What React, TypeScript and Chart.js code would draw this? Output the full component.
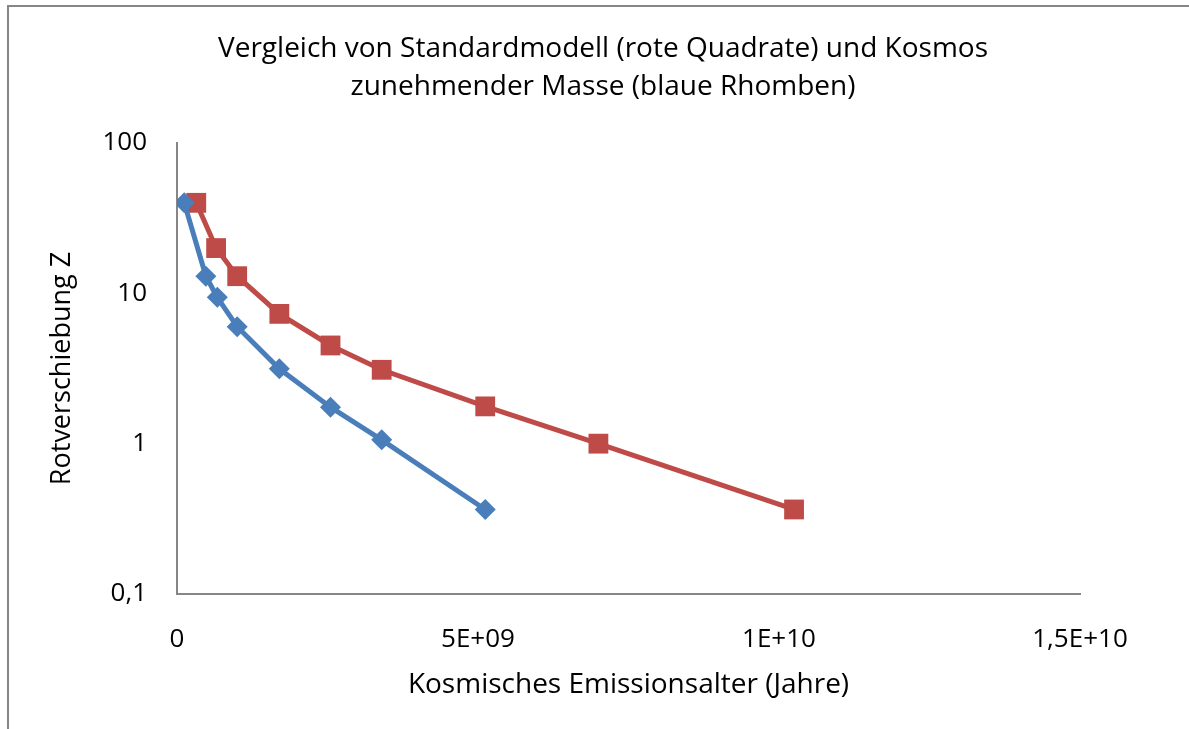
import React, { useEffect, useRef } from "react";
import { Chart, registerables } from "chart.js";

Chart.register(...registerables);

const chartTitle = [
  "Vergleich von Standardmodell (rote Quadrate) und Kosmos",
  "zunehmender Masse (blaue Rhomben)",
];
const xAxisTitle = "Kosmisches Emissionsalter (Jahre)";
const yAxisTitle = "Rotverschiebung Z";

// Kosmos zunehmender Masse (blaue Rhomben)
const blueAge = [0.12e9, 0.48e9, 0.67e9, 1.0e9, 1.7e9, 2.55e9, 3.4e9, 5.12e9];
const blueZ = [40, 13, 9.4, 6, 3.15, 1.75, 1.06, 0.365];

// Standardmodell (rote Quadrate)
const redAge = [0.32e9, 0.65e9, 1.0e9, 1.7e9, 2.55e9, 3.4e9, 5.12e9, 7.0e9, 10.25e9];
const redZ = [40, 20, 13, 7.3, 4.5, 3.1, 1.77, 1.0, 0.365];

const xTickLabels: Record<string, string> = {
  "0": "0",
  "5000000000": "5E+09",
  "10000000000": "1E+10",
  "15000000000": "1,5E+10",
};
const yTickLabels: Record<string, string> = {
  "0.1": "0,1",
  "1": "1",
  "10": "10",
  "100": "100",
};

const FONT = "'Open Sans', sans-serif";

const borderPlugin = {
  id: "outerBorder",
  beforeDraw(chart: any) {
    const ctx = chart.ctx;
    ctx.save();
    ctx.strokeStyle = "#868686";
    ctx.lineWidth = 2;
    ctx.beginPath();
    ctx.moveTo(8, chart.height);
    ctx.lineTo(8, 6);
    ctx.lineTo(chart.width, 6);
    ctx.stroke();
    ctx.restore();
  },
};

export default function App() {
  const ref = useRef<HTMLCanvasElement | null>(null);

  useEffect(() => {
    document.body.style.margin = "0";
    const canvas = ref.current;
    if (!canvas) return;
    const blue = "#4A7EBB";
    const red = "#BE4B48";
    const chart = new Chart(canvas, {
      type: "scatter",
      data: {
        datasets: [
          {
            label: "Kosmos zunehmender Masse",
            data: blueAge.map((x, i) => ({ x, y: blueZ[i] })),
            showLine: true,
            borderColor: blue,
            backgroundColor: blue,
            borderWidth: 5,
            pointStyle: "rectRot",
            pointRadius: 10.5,
            pointBorderWidth: 0,
          },
          {
            label: "Standardmodell",
            data: redAge.map((x, i) => ({ x, y: redZ[i] })),
            showLine: true,
            borderColor: red,
            backgroundColor: red,
            borderWidth: 5,
            pointStyle: "rect",
            pointRadius: 14,
            pointBorderWidth: 0,
          },
        ],
      },
      options: {
        responsive: false,
        animation: false,
        layout: { padding: { left: 17, right: 0, top: 0, bottom: 0 } },
        plugins: {
          legend: { display: false },
          tooltip: { enabled: false },
          title: {
            display: true,
            text: chartTitle,
            color: "#000",
            font: { family: FONT, size: 28, weight: "normal", lineHeight: 1.357 },
            padding: { top: 30, bottom: 37 },
          },
        },
        scales: {
          x: {
            type: "linear",
            min: 0,
            max: 1.5e10,
            border: { display: true, color: "#868686", width: 2 },
            grid: { display: false, drawTicks: false },
            ticks: {
              stepSize: 5e9,
              padding: 30,
              color: "#000",
              font: { family: FONT, size: 26 },
              callback: (v: any) => xTickLabels[String(v)] ?? "",
            },
            title: {
              display: true,
              text: xAxisTitle,
              color: "#000",
              font: { family: FONT, size: 28, lineHeight: 1.2 },
              padding: { top: 0, bottom: 27 },
            },
            afterFit: (s: any) => {
              s.height = 135;
            },
          },
          y: {
            type: "logarithmic",
            min: 0.1,
            max: 100,
            border: { display: true, color: "#868686", width: 2 },
            grid: { display: false, drawTicks: false },
            ticks: {
              padding: 30,
              color: "#000",
              font: { family: FONT, size: 26 },
              autoSkip: false,
              callback: (v: any) => yTickLabels[String(v)] ?? "",
            },
            title: {
              display: true,
              text: yAxisTitle,
              color: "#000",
              font: { family: FONT, size: 27, lineHeight: 1.2 },
              padding: { top: 29, bottom: 0 },
            },
            afterFit: (s: any) => {
              s.width = 160;
            },
          },
          yRight: {
            type: "linear",
            position: "right",
            display: true,
            border: { display: false },
            grid: { display: false, drawTicks: false },
            ticks: { display: false },
            afterFit: (s: any) => {
              s.width = 109;
            },
          },
        },
      },
      plugins: [borderPlugin],
    });
    return () => chart.destroy();
  }, []);

  return (
    <div style={{ width: 1189, height: 729, background: "#fff" }}>
      <canvas ref={ref} width={1189} height={729} style={{ display: "block" }} />
    </div>
  );
}
